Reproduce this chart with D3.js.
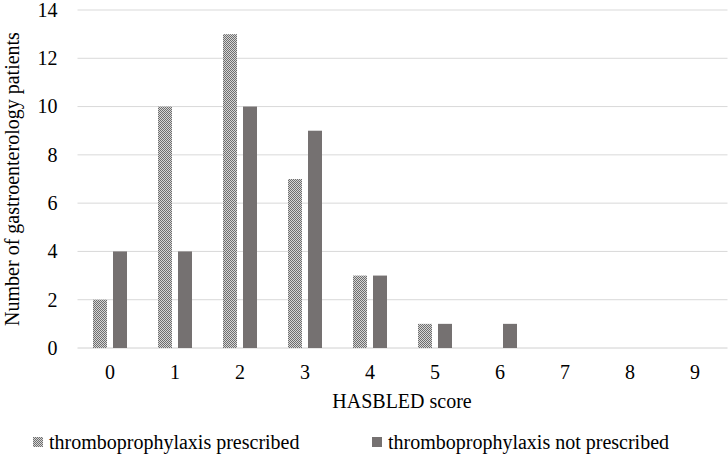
<!DOCTYPE html>
<html><head><meta charset="utf-8">
<script src="https://cdn.jsdelivr.net/npm/d3@7"></script>
</head><body style="margin:0;background:#fff"><svg id="c" width="728" height="456" font-family="Liberation Serif" style="display:block"></svg>
<script>
const categories = ["0","1","2","3","4","5","6","7","8","9"];
const seriesNames = ["thromboprophylaxis prescribed","thromboprophylaxis not prescribed"];
const prescribed = [2,10,13,7,3,1,0,0,0,0];
const notPrescribed = [4,4,10,9,3,1,1,0,0,0];
const yTicks = [0,2,4,6,8,10,12,14];

const FONT = "Liberation Serif";
const svg = d3.select("#c");
const m = {l:77.5, r:727.5, t:10, b:348};
const defs = svg.append("defs");
const pat = defs.append("pattern").attr("id","chk").attr("width",2).attr("height",2).attr("patternUnits","userSpaceOnUse");
pat.append("rect").attr("width",2).attr("height",2).attr("fill","#d6d6d6");
pat.append("rect").attr("width",1).attr("height",1).attr("fill","#6e6e6e");
pat.append("rect").attr("x",1).attr("y",1).attr("width",1).attr("height",1).attr("fill","#6e6e6e");

const x = d3.scaleBand().domain(categories).range([m.l,m.r]);
const y = d3.scaleLinear().domain([0,14]).range([m.b,m.t]);
const inner = d3.scaleBand().domain([0,1]).range([15.5,49.5]).paddingInner(0.3);

svg.append("g").selectAll("line").data(yTicks).join("line")
  .attr("x1",m.l).attr("x2",m.r).attr("y1",d=>y(d)).attr("y2",d=>y(d))
  .attr("stroke",d=>d===0?"#d0d0d0":"#d9d9d9").attr("stroke-width",1);

const yAxis = d3.axisLeft(y).tickValues(yTicks).tickSize(0).tickPadding(20);
const ga = svg.append("g").attr("transform",`translate(${m.l},0)`).call(yAxis);
ga.attr("font-family",null).attr("font-size",null).attr("fill",null);
ga.select(".domain").remove();
ga.selectAll("text").attr("fill","#000").attr("font-family",FONT).attr("font-size",20);

const xAxis = d3.axisBottom(x).tickSize(0).tickPadding(17);
const gx = svg.append("g").attr("transform",`translate(0,${m.b})`).call(xAxis);
gx.attr("font-family",null).attr("font-size",null).attr("fill",null);
gx.select(".domain").remove();
gx.selectAll("text").attr("fill","#000").attr("font-family",FONT).attr("font-size",20);

const data = [prescribed, notPrescribed];
const fills = ["url(#chk)","#757171"];
data.forEach((vals,si)=>{
  svg.append("g").selectAll("rect").data(vals.map((v,i)=>({v,c:categories[i]}))).join("rect")
    .attr("x",d=>x(d.c)+inner(si)).attr("width",inner.bandwidth())
    .attr("y",d=>y(d.v)).attr("height",d=>y(0)-y(d.v))
    .attr("fill",fills[si]);
});

svg.append("text").attr("x",402).attr("y",408).attr("text-anchor","middle")
  .attr("font-family",FONT).attr("font-size",20).text("HASBLED score");
svg.append("text").attr("transform",`translate(19,${(m.t+m.b)/2}) rotate(-90)`).attr("text-anchor","middle")
  .attr("font-family",FONT).attr("font-size",20).text("Number of gastroenterology patients");

const leg = [{x:33,f:fills[0],t:seriesNames[0]},{x:372,f:fills[1],t:seriesNames[1]}];
leg.forEach(l=>{
  svg.append("rect").attr("x",l.x).attr("y",437).attr("width",10).attr("height",10).attr("fill",l.f);
  svg.append("text").attr("x",l.x+16).attr("y",449).attr("font-family",FONT).attr("font-size",20).text(l.t);
});
</script></body></html>
